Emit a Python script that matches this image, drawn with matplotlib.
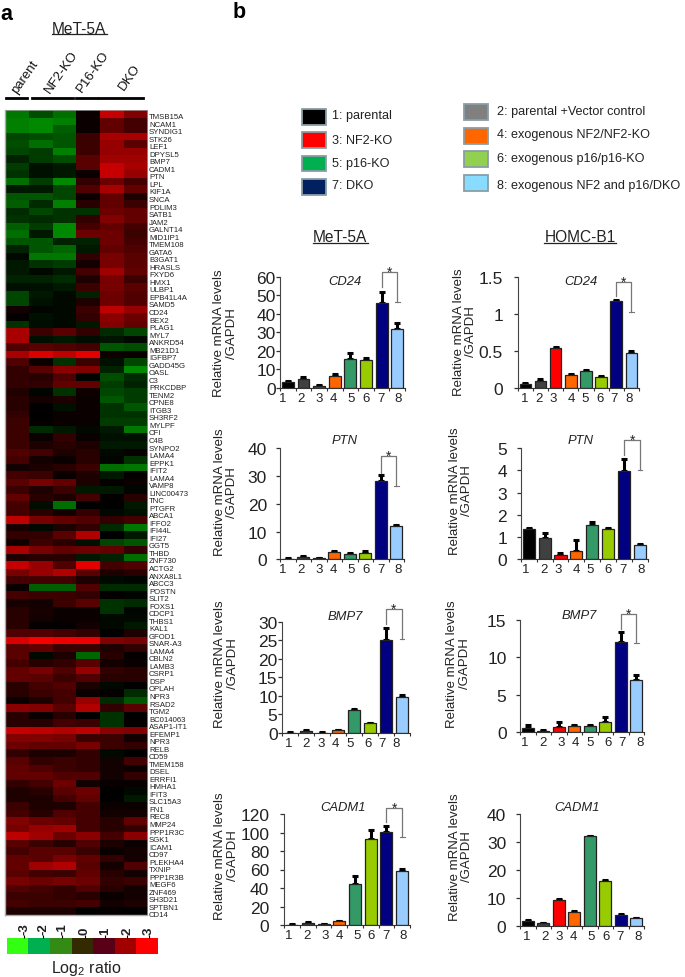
import numpy as np
import matplotlib
matplotlib.use("Agg")
import matplotlib.pyplot as plt
from matplotlib.colors import LinearSegmentedColormap, ListedColormap
from matplotlib.patches import Rectangle

plt.rcParams["font.family"] = ["Liberation Sans", "DejaVu Sans"]
plt.rcParams["mathtext.default"] = "regular"

W, H = 685, 978

genes = [
    "TMSB15A", "NCAM1", "SYNDIG1", "STK26", "LEF1", "DPYSL5", "BMP7", "CADM1", "PTN", "LPL", "KIF1A",
    "SNCA", "PDLIM3", "SATB1", "JAM2", "GALNT14", "MID1IP1", "TMEM108", "GATA6", "B3GAT1", "HRASLS",
    "FXYD6", "HMX1", "ULBP1", "EPB41L4A", "SAMD5", "CD24", "BEX2", "PLAG1", "MYL7", "ANKRD54", "MB21D1",
    "IGFBP7", "GADD45G", "OASL", "C3", "PRKCDBP", "TENM2", "CPNE8", "ITGB3", "SH3RF2", "MYLPF", "CFI",
    "C4B", "SYNPO2", "LAMA4", "EPPK1", "IFIT2", "LAMA4", "VAMP8", "LINC00473", "TNC", "PTGFR", "ABCA1",
    "IFFO2", "IFI44L", "IFI27", "GGT5", "THBD", "ZNF730", "ACTG2", "ANXA8L1", "ABCC3", "POSTN", "SLIT2",
    "FOXS1", "CDCP1", "THBS1", "KAL1", "GFOD1", "SNAR-A3", "LAMA4", "CBLN2", "LAMB3", "CSRP1", "DSP",
    "OPLAH", "NPR3", "RSAD2", "TGM2", "BC014063", "ASAP1-IT1", "EFEMP1", "NPR3", "RELB", "CD59", "TMEM158",
    "DSEL", "ERRFI1", "HMHA1", "IFIT3", "SLC15A3", "FN1", "REC8", "MMP24", "PPP1R3C", "SGK1", "ICAM1",
    "CD97", "PLEKHA4", "TXNIP", "PPP1R3B", "MEGF6", "ZNF469", "SH3D21", "SPTBN1", "CD14",
]

# log2 ratios, one row per gene
heat = [
    [-1.4, -0.9, -1.3, 0.1, 2.0, 1.3], [-1.5, -1.6, -1.5, 0.1, 1.0, 0.7], [-1.5, -1.6, -1.1, 0.1, 1.0, 0.7],
    [-0.8, -0.9, -1.0, 0.6, 1.7, 1.7], [-0.9, -1.3, -1.0, 0.6, 1.5, 0.9], [-0.8, -0.7, -1.5, 0.6, 1.5, 1.5],
    [-0.4, -0.7, -0.9, 0.9, 1.6, 1.6], [-0.7, -0.2, -0.3, 0.9, 2.0, 1.7], [-0.6, -0.2, -0.3, 0.1, 2.0, 1.5],
    [-1.3, -0.7, -1.6, 0.5, 1.1, 0.7], [-0.3, -0.3, -0.8, 0.8, 1.7, 1.0], [-1.0, -1.0, -0.8, 0.1, 1.0, 0.3],
    [-1.1, -0.5, -1.5, 0.4, 1.0, 0.6], [-0.5, -0.8, -0.6, -0.6, 1.1, 1.0], [-0.6, -0.5, -0.6, 0.5, 1.3, 1.0],
    [-1.1, -0.7, -1.6, 0.7, 1.0, 0.7], [-1.3, -0.3, -1.6, 1.1, 1.1, 0.6], [-1.0, -1.0, -0.4, -0.4, 1.1, 0.7],
    [-0.4, -1.0, -1.2, -0.3, 1.0, 0.8], [-0.1, -1.4, -1.4, 0.5, 1.2, 0.9], [-0.3, -0.6, -0.7, 0.2, 1.2, 0.9],
    [-0.3, -0.1, -0.3, 0.7, 1.6, 1.0], [-0.4, -0.4, -0.5, 0.3, 1.2, 0.6], [-0.2, -0.2, -0.3, 0.6, 1.2, 0.9],
    [-0.8, -0.3, -0.1, -0.4, 1.1, 0.8], [-0.8, -0.2, -0.1, 0.3, 1.1, 0.8], [0.2, -0.05, -0.1, 0.6, 1.9, 1.5],
    [0.05, -0.2, -0.1, 0.5, 1.4, 1.1], [-0.6, -0.15, -0.1, -0.3, 1.3, 1.0], [1.7, 0.6, 0.9, 0.5, -0.5, -0.8],
    [1.7, -0.2, -0.3, -0.15, -0.25, -0.1], [0.8, 0.9, 0.8, 0.7, -1.0, -0.9], [1.7, 2.2, 1.9, 2.3, 0.15, 0.1],
    [0.8, 0.1, -0.6, 0.6, -0.2, -0.8], [0.5, 0.9, 1.4, 1.3, -0.4, -1.6], [0.5, 0.4, 0.8, -0.05, -0.9, -0.5],
    [0.5, 0.5, 1.0, 1.0, -0.7, -0.4], [0.35, -0.05, -0.6, 0.15, -0.8, -0.7], [0.4, 0.2, 0.3, 0.1, -1.0, -0.7],
    [0.4, 0.0, -0.2, 0.1, -0.6, -1.0], [0.5, 0.0, 0.1, 0.1, -0.6, -0.6], [0.6, 0.05, 0.1, 0.1, -0.7, -0.7],
    [0.6, -0.5, -0.3, -0.1, -0.3, -1.4], [0.6, 0.1, 0.5, 0.1, -0.2, -0.2], [0.6, 0.3, 0.4, 0.3, -0.3, -0.3],
    [0.8, 0.7, 0.3, 0.4, -0.1, 0.1], [0.7, 0.2, 0.1, 0.4, -0.05, -0.6], [0.2, 0.3, 0.4, 0.6, -1.3, -1.4],
    [0.7, 0.6, 0.1, 0.3, -0.3, 0.05], [0.9, 1.2, 1.0, 0.3, 0.05, 0.1], [0.6, 0.3, 0.6, -0.3, -0.3, -0.05],
    [1.0, 0.4, 0.3, 0.7, 0.05, 0.4], [0.7, -0.15, -1.3, 0.02, 0.02, -0.3], [0.7, 0.4, 0.2, 0.5, -0.1, -0.2],
    [1.9, 1.2, 1.0, 0.8, 0.5, 0.7], [0.25, -0.1, 0.3, 0.5, -0.5, -1.4], [0.5, 0.5, 0.9, 1.8, 0.0, -0.3],
    [0.15, 0.6, 0.4, -0.2, -0.8, -1.0], [1.7, 1.2, 1.0, 1.1, 1.0, 0.5], [0.3, 0.4, 0.4, -0.3, -0.4, -1.3],
    [2.0, 1.5, 0.8, 2.3, 0.7, 0.8], [1.2, 1.5, 1.8, 0.9, 0.3, 0.4], [0.7, 0.7, 0.7, 0.3, -0.1, -0.05],
    [0.1, -1.1, -1.1, 0.8, -0.5, -0.5], [0.7, 0.6, 0.6, 0.5, 0.05, -0.05], [0.25, 0.2, 0.6, 0.9, -0.6, -0.5],
    [0.4, 0.25, 0.1, 0.1, -0.6, -0.05], [0.4, 0.2, 0.1, 0.1, -0.1, -0.1], [0.4, 0.05, 0.05, 0.2, -0.1, -0.3],
    [0.8, 0.8, 0.7, 0.5, 0.02, 0.3], [2.2, 2.5, 2.4, 2.4, 1.3, 1.2], [0.9, 1.0, 0.6, 0.6, 0.3, 0.5],
    [0.9, -0.1, 0.3, -1.2, 0.4, 0.05], [0.7, 0.4, 0.5, 0.9, 0.2, 0.1], [1.0, 1.2, 0.8, 1.5, 0.5, 0.4],
    [1.0, 0.9, 0.6, 0.8, 0.4, 0.4], [0.4, 0.7, 0.8, 0.3, -0.1, 0.02], [0.4, 0.6, 0.7, 0.1, 0.05, -0.5],
    [0.1, 0.3, 0.7, 1.5, -0.5, -1.0], [1.4, 1.3, 0.9, 1.8, 0.5, 0.9], [0.4, 0.1, 0.4, 0.05, -0.6, 0.02],
    [0.4, 0.4, 0.7, 0.6, -0.6, 0.05], [2.0, 1.9, 1.8, 1.9, 1.4, 1.3], [1.3, 1.3, 1.2, 0.6, 0.6, 0.2],
    [1.1, 1.0, 1.0, 1.2, 0.6, 0.5], [0.5, 0.3, 0.3, 0.5, -0.1, 0.02], [0.9, 0.5, 0.6, 0.5, 0.2, 0.7],
    [1.0, 0.8, 0.6, 0.5, 0.2, 0.1], [1.0, 1.0, 0.8, 0.8, 0.2, 0.5], [0.5, 0.7, 1.1, 0.2, 0.08, 0.08],
    [0.3, 0.4, 0.9, 1.1, 0.02, -0.1], [0.3, 0.3, 0.7, 1.0, 0.02, -0.3], [0.6, 0.3, 0.3, 0.7, 0.1, 0.1],
    [0.7, 0.4, 0.8, 0.7, 0.2, 0.2], [1.3, 1.1, 1.0, 0.7, 0.4, 1.0], [1.2, 1.5, 1.6, 0.7, 0.4, 0.5],
    [1.9, 1.6, 1.1, 1.4, 0.7, 1.4], [0.9, 0.6, 0.4, 0.8, 0.3, 0.1], [0.7, 0.9, 0.9, 0.6, 0.1, 0.2],
    [1.0, 0.9, 1.2, 1.0, 0.5, 0.2], [1.0, 1.6, 1.8, 0.9, 0.2, 0.8], [0.9, 0.7, 0.6, 1.0, 0.4, 0.2],
    [1.2, 1.1, 1.2, 1.1, 0.5, 0.6], [0.8, 0.7, 0.5, 0.8, 0.4, 0.2], [0.6, 0.6, 0.5, 0.4, 0.1, 0.2],
    [0.7, 0.6, 0.6, 0.7, 0.2, 0.3], [0.3, 0.3, 0.3, 0.02, 0.05, 0.02],
]

scale_ticks = [-3, -2, -1, 0, 1, 2, 3]
scale_colors = ["#33ff11", "#00b050", "#338a14", "#332a00", "#590018", "#a00000", "#ff0000"]

bar_labels = ["1", "2", "3", "4", "5", "6", "7", "8"]
bar_colors = ["#000000", "#404040", "#ff0000", "#ff6600", "#339966", "#99cc00", "#000080", "#99ccff"]

cd24_met = [3, 5, 1, 6.3, 15.5, 15, 46, 32]
cd24_met_err = [0.8, 0.8, 0.4, 1, 3.5, 1, 6, 3]
cd24_homc = [0.06, 0.1, 0.54, 0.18, 0.23, 0.15, 1.18, 0.48]
cd24_homc_err = [0.015, 0.02, 0.01, 0.01, 0.01, 0.01, 0.01, 0.015]
ptn_met = [0.2, 0.8, 0.3, 2.5, 1.8, 2.4, 28.2, 12]
ptn_met_err = [0.2, 0.4, 0.2, 0.5, 0.5, 0.5, 2.2, 0.5]
ptn_homc = [1.35, 0.97, 0.2, 0.37, 1.55, 1.37, 3.95, 0.62]
ptn_homc_err = [0.05, 0.22, 0.08, 0.5, 0.13, 0.05, 0.55, 0.05]
bmp7_met = [0.1, 0.6, 0.1, 0.7, 6.2, 2.6, 25.2, 9.8]
bmp7_met_err = [0.1, 0.2, 0.1, 0.15, 0.2, 0.2, 3, 0.4]
bmp7_homc = [0.6, 0.1, 0.7, 0.75, 0.75, 1.4, 12, 6.9]
bmp7_homc_err = [0.3, 0.15, 0.7, 0.15, 0.15, 0.6, 1.4, 0.8]
cadm1_met = [0.5, 2, 0.7, 4, 44, 93, 101, 58]
cadm1_met_err = [0.2, 0.8, 0.3, 0.7, 9, 10, 6, 3]
cadm1_homc = [1.6, 0.8, 9.2, 5, 32, 16, 3.9, 2.7]
cadm1_homc_err = [0.3, 0.2, 0.3, 0.2, 0.2, 0.2, 0.2, 0.2]

fig = plt.figure(figsize=(W / 100, H / 100), dpi=100)


def px_axes(left, right, top, bottom):
    return fig.add_axes([left / W, 1 - bottom / H, (right - left) / W, (bottom - top) / H])


def px_text(x, y, s, **kw):
    kw.setdefault("ha", "center")
    kw.setdefault("va", "center")
    return fig.text(x / W, 1 - y / H, s, **kw)


def px_line(xs, ys, **kw):
    fig.add_artist(plt.Line2D([x / W for x in xs], [1 - y / H for y in ys], **kw))


def underlined(x, y, s, x0, x1, y_line):
    px_text(x, y, s, fontsize=11.2, color="#222222")
    px_line([x0, x1], [y_line, y_line], color="#222222", lw=0.9)


px_text(6.5, 14, "a", fontsize=15.5, fontweight="bold")
px_text(239, 12, "b", fontsize=15.5, fontweight="bold")

# a: heatmap
underlined(79, 29, "MeT-5A", 52, 107, 34.7)
group_names = ["parent", "NF2-KO", "P16-KO", "DKO"]
for name, gx, gy, x0, x1 in zip(group_names, [25, 61, 93, 130], [77, 72, 72, 78], [6, 32, 76, 99], [27, 73, 97, 143]):
    px_text(gx, gy, name, fontsize=9.5, rotation=55, color="#111111")
    px_line([x0, x1], [98.7, 98.7], color="black", lw=2)

# reds top out a little before +3 in the picture
heat_cmap = LinearSegmentedColormap.from_list(
    "heat", [(0, "#00ff00"), (0.5, "#000000"), (0.93, "#ff0000"), (1, "#ff0000")]
)
ax = px_axes(4.7, 147, 111, 916)
ax.imshow(np.array(heat), cmap=heat_cmap, vmin=-3, vmax=3, aspect="auto", interpolation="nearest")
ax.set_xticks([])
ax.set_yticks([])
for side, spine in ax.spines.items():
    spine.set_color("#aaaaaa")
    spine.set_linewidth(1.0 if side in ("left", "bottom") else 0.5)

for i, gene in enumerate(genes):
    px_text(149, 117.7 + i * 7.53, gene, fontsize=5.6, ha="left", color="#222222")

# colour scale, its labels sit slightly right of the cell centres
ax = px_axes(7.3, 158.3, 939, 955)
ax.imshow(np.arange(7).reshape(1, -1), cmap=ListedColormap(scale_colors), aspect="auto")
ax.set_yticks([])
ax.set_xticks([0.28, 1.16, 2.05, 3.1, 4.05, 5.05, 6.07])
ax.set_xticklabels(scale_ticks, rotation=90, fontsize=9.5, fontweight="bold", color="#222222")
ax.xaxis.tick_top()
ax.tick_params(axis="x", length=2, width=0.8, pad=1)
for spine in ax.spines.values():
    spine.set_visible(False)
px_text(86, 969, "Log$_2$ ratio", fontsize=11.5, color="#222222")

# b: legend
legend_left = [
    ("1: parental", "#000000", 110, 116),
    ("3: NF2-KO", "#ff0000", 133, 140.7),
    ("5: p16-KO", "#00b050", 156.7, 164),
    ("7: DKO", "#002060", 180, 186),
]
legend_right = [
    ("2: parental +Vector control", "#808080", 105.3, 112),
    ("4: exogenous NF2/NF2-KO", "#ff6600", 129, 134.7),
    ("6: exogenous p16/p16-KO", "#92d050", 152.3, 159),
    ("8: exogenous NF2 and p16/DKO", "#87dcff", 176.3, 186),
]
for entries, box_x, text_x in [(legend_left, 302, 331.7), (legend_right, 463.5, 496.7)]:
    for label, color, box_y, text_y in entries:
        fig.add_artist(Rectangle((box_x / W, 1 - (box_y + 15.7) / H), 24 / W, 15.7 / H, transform=fig.transFigure,
                                 facecolor=color, edgecolor="#8a9ea6", lw=1.3))
        px_text(text_x, text_y, label, fontsize=9.1, ha="left", color="#222222")

underlined(340, 238, "MeT-5A", 312.7, 367.7, 244)
underlined(580, 238, "HOMC-B1", 544, 615.7, 244)

# each panel: values, errors, gene, y max, y ticks, axes box, gene label spot, y label spot, bracket,
# y tick pad, and where the hand-set 1-8 labels sit in pixels
panels = [
    (cd24_met, cd24_met_err, "CD24", 60, [0, 10, 20, 30, 40, 50, 60], (280, 405, 277.7, 389),
     (345, 281.7), (225.5, 333.5), (62.4, 54.3, 46.2), 0, [283, 301, 319, 333, 351, 366, 381, 398]),
    (cd24_homc, cd24_homc_err, "CD24", 1.5, [0, 0.5, 1, 1.5], (517.7, 639, 277.7, 389.3),
     (580.7, 281.7), (465, 332), (1.425, 1.237, 1.03), 7.5, [525, 539, 553, 571, 585, 600, 614, 629]),
    (ptn_met, ptn_met_err, "PTN", 40, [0, 10, 20, 30, 40], (280, 404, 449.3, 560.3),
     (345, 440.7), (226, 492.5), (37.3, 31.1, 26.5), 6.3, [283, 301, 319, 333, 351, 366, 381, 398]),
    (ptn_homc, ptn_homc_err, "PTN", 5, [0, 1, 2, 3, 4, 5], (520.7, 648, 449, 560.3),
     (580.7, 440.7), (461, 491), (5.37, 4.69, 4.03), 6.8, [526, 544, 558, 576, 590, 608, 623, 641]),
    (bmp7_met, bmp7_met_err, "BMP7", 30, [0, 5, 10, 15, 20, 25, 30], (281.7, 410, 622.7, 734),
     (345, 616.7), (226.5, 664), (33.4, 29.4, 25.3), 0, [289, 306, 321, 335, 350, 368, 382, 396]),
    (bmp7_homc, bmp7_homc_err, "BMP7", 15, [0, 5, 10, 15], (520, 644, 621, 733),
     (579, 616), (458.7, 664), (15.8, 13.8, 11.9), 6.7, [525, 543, 561, 575, 590, 608, 622, 640]),
    (cadm1_met, cadm1_met_err, "CADM1", 120, [0, 20, 40, 60, 80, 100, 120], (284.3, 410, 815, 926),
     (342.7, 808.3), (226.5, 856), (127, 111.7, 95.5), 7.8, [289, 307, 325, 339, 357, 371, 386, 403]),
    (cadm1_homc, cadm1_homc_err, "CADM1", 40, [0, 10, 20, 30, 40], (520, 644, 815, 926.7),
     (577.3, 808.3), (461, 857), None, 7, [527, 545, 559, 573, 591, 606, 620, 638]),
]

pos = np.arange(1, 9)
for values, errs, gene, ymax, yticks, box, gene_xy, ylabel_xy, bracket, ypad, xlabel_px in panels:
    ax = px_axes(*box)
    ax.bar(pos, values, width=0.76, color=bar_colors, edgecolor="#222222", linewidth=0.9, zorder=2)
    ax.errorbar(pos, values, yerr=[np.zeros(8), errs], fmt="none", ecolor="black", elinewidth=2.2,
                capsize=2.5, capthick=2.2, zorder=1)
    ax.set_xlim(0.5, 8.5)
    ax.set_ylim(0, ymax)
    ax.set_yticks(yticks)
    ax.set_yticklabels([f"{t:g}" for t in yticks], fontsize=12.5, color="#222222")
    ax.set_xticks(np.arange(0.5, 9))
    ax.set_xticklabels([])
    label_pos = [0.5 + (p - box[0]) / (box[1] - box[0]) * 8 for p in xlabel_px]
    ax.set_xticks(label_pos, labels=bar_labels, minor=True)
    ax.tick_params(axis="x", which="minor", length=0, labelsize=9.5, labelcolor="#222222", pad=3)
    ax.tick_params(axis="x", which="major", length=2.5, width=0.8, color="#333333")
    ax.tick_params(axis="y", length=3, width=0.9, color="#333333", pad=ypad)
    ax.spines["top"].set_visible(False)
    ax.spines["right"].set_visible(False)
    ax.spines["left"].set_color("#444444")
    ax.spines["bottom"].set_color("#333333")

    px_text(gene_xy[0], gene_xy[1], gene, fontsize=9.4, style="italic", color="#222222")
    px_text(ylabel_xy[0], ylabel_xy[1], "Relative mRNA levels\n/GAPDH", fontsize=9.5, rotation=90,
            color="#222222", multialignment="center", linespacing=1.1)

    if bracket:
        top, left_end, right_end = bracket
        ax.plot([7, 7, 8, 8], [left_end, top, top, right_end], color="#777777", lw=0.9, clip_on=False, zorder=3)
        ax.plot([7.85, 8.15], [right_end, right_end], color="#777777", lw=0.8, clip_on=False, zorder=3)
        ax.text(7.5, top, "*", ha="center", va="center", fontsize=10, color="#222222", clip_on=False)

fig.savefig("out.png", dpi=100)
